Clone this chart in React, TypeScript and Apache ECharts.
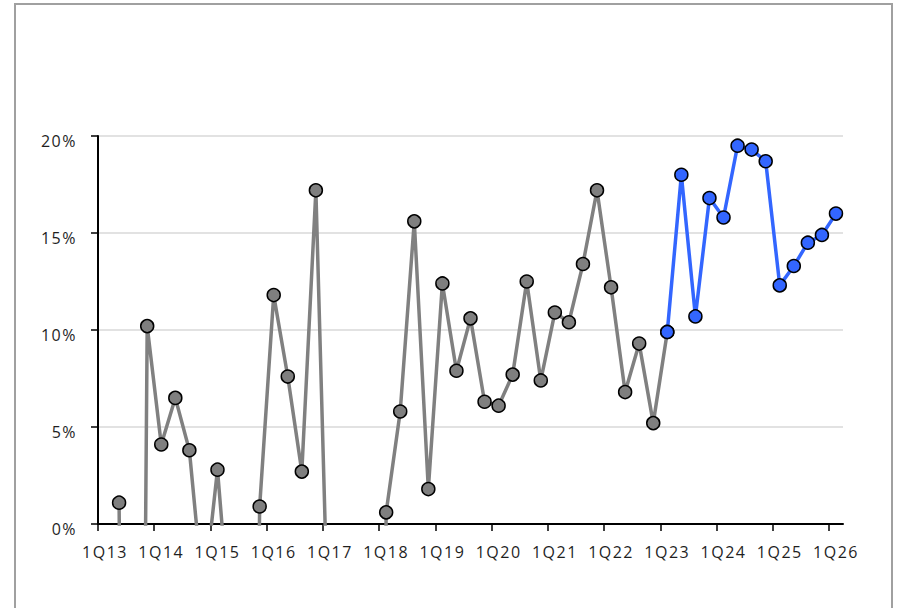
import React, { useEffect, useRef } from "react";
import * as echarts from "echarts";

const quarters: string[] = [];
for (let y = 13; y <= 26; y++) {
  for (let q = 1; q <= 4; q++) {
    if (y === 26 && q > 1) break;
    quarters.push(`${q}Q${y}`);
  }
}

// 1Q13 .. 1Q23 (grey); negative values fall below the axis and are clipped
const greyValues: (number | null)[] = [
  null, 1.1, -80, 10.2,
  4.1, 6.5, 3.8, -3.8,
  2.8, -6, -60, 0.9,
  11.8, 7.6, 2.7, 17.2,
  -9, -20, -40, -70,
  0.6, 5.8, 15.6, 1.8,
  12.4, 7.9, 10.6, 6.3,
  6.1, 7.7, 12.5, 7.4,
  10.9, 10.4, 13.4, 17.2,
  12.2, 6.8, 9.3, 5.2,
  9.9,
];

// 1Q23 .. 1Q26 (blue)
const blueValues: number[] = [
  9.9, 18.0, 10.7, 16.8,
  15.8, 19.5, 19.3, 18.7,
  12.3, 13.3, 14.5, 14.9,
  16.0,
];

const yTicks = [0, 5, 10, 15, 20];

export default function App() {
  const ref = useRef<HTMLDivElement>(null);
  useEffect(() => {
    if (!ref.current) return;
    const chart = echarts.init(ref.current, null, { renderer: "svg" });
    const n = quarters.length;
    const grey = quarters.map((_, i) => (i < greyValues.length ? greyValues[i] : null));
    const blueStart = n - blueValues.length;
    const blue = quarters.map((_, i) => (i >= blueStart ? blueValues[i - blueStart] : null));
    const font = "'Open Sans', 'Noto Sans', sans-serif";
    chart.setOption({
      animation: false,
      backgroundColor: "#ffffff",
      graphic: [
        {
          type: "rect",
          shape: { x: 15, y: 4, width: 877, height: 620 },
          style: { fill: "none", stroke: "#a0a0a0", lineWidth: 2 },
          silent: true,
        },
      ],
      grid: { left: 98, right: 56, top: 136, bottom: 84, containLabel: false },
      xAxis: [
        {
          type: "category",
          data: quarters,
          boundaryGap: true,
          axisLine: { lineStyle: { color: "#000", width: 2 } },
          axisTick: { show: false },
          axisLabel: {
            interval: 3,
            color: "#1f1f1f",
            fontSize: 16,
            fontFamily: font,
            margin: 20,
          },
          splitLine: { show: false },
        },
        {
          // tick marks at quarter boundaries (every year)
          type: "category",
          position: "bottom",
          data: [...quarters, ""],
          boundaryGap: false,
          axisLine: { show: false },
          axisTick: { show: true, interval: 3, length: 7, lineStyle: { color: "#000", width: 1.5 } },
          axisLabel: { show: false },
          splitLine: { show: false },
        },
      ],
      yAxis: {
        type: "value",
        min: yTicks[0],
        max: yTicks[yTicks.length - 1],
        interval: 5,
        axisLine: { show: true, lineStyle: { color: "#000", width: 2 } },
        axisTick: { show: true, length: 7, lineStyle: { color: "#000", width: 1.5 } },
        axisLabel: {
          formatter: (v: number) => `${v}%`,
          color: "#1f1f1f",
          fontSize: 16,
          fontFamily: font,
          margin: 21,
          verticalAlign: "top",
          lineHeight: 10,
        },
        splitLine: { show: true, lineStyle: { color: "#d9d9d9", width: 1.5 } },
      },
      series: [
        {
          type: "line",
          data: grey,
          clip: true,
          symbol: "circle",
          symbolSize: 13,
          showAllSymbol: true,
          lineStyle: { color: "#808080", width: 3.5 },
          itemStyle: { color: "#7f7f7f", borderColor: "#000", borderWidth: 1.5 },
          z: 2,
        },
        {
          type: "line",
          data: blue,
          clip: true,
          symbol: "circle",
          symbolSize: 13,
          showAllSymbol: true,
          lineStyle: { color: "#3366ff", width: 3.5 },
          itemStyle: { color: "#3366ff", borderColor: "#000", borderWidth: 1.5 },
          z: 3,
        },
      ],
    });
    return () => chart.dispose();
  }, []);
  return (
    <>
      <style>{`#chart-box text { letter-spacing: 1.5px; }`}</style>
      <div
        id="chart-box"
        ref={ref}
        style={{ position: "absolute", left: 0, top: 0, width: 899, height: 608 }}
      />
    </>
  );
}
